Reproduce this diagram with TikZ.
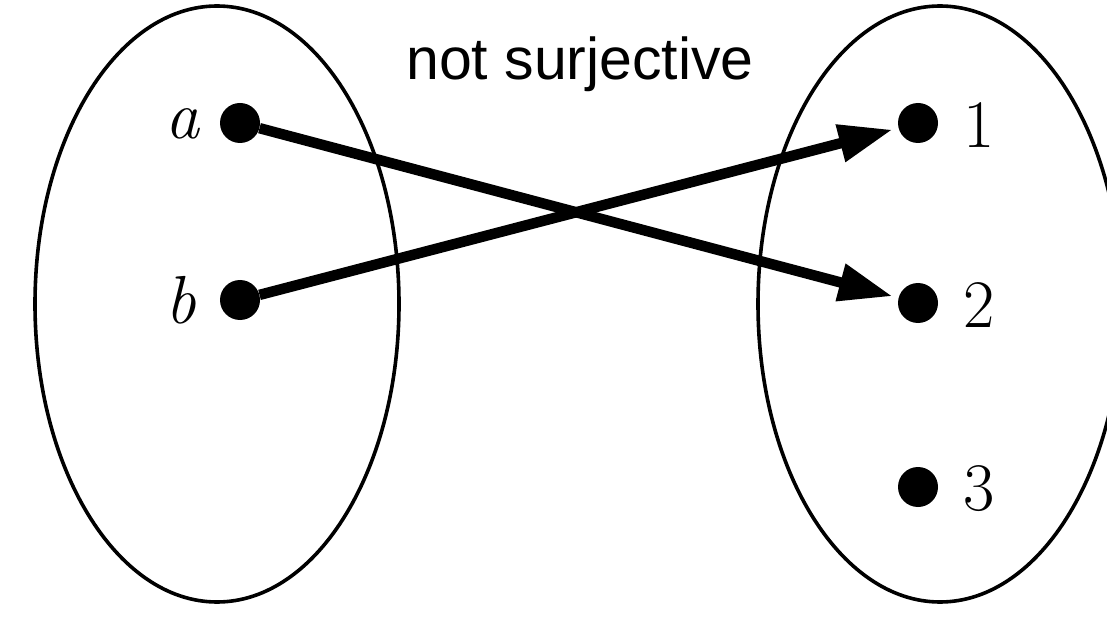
\documentclass[tikz,border=0pt]{standalone}
\usepackage{fontspec}
\newfontfamily\titlefont{Liberation Sans}
\usetikzlibrary{arrows.meta}
\begin{document}
\begin{tikzpicture}[x=1pt,y=-1pt,
  setring/.style={draw, line width=3.6pt},
  dotnode/.style={circle, fill=black, draw=none, inner sep=0pt, minimum size=40pt},
  lbl/.style={font=\fontsize{68}{68}\selectfont, inner sep=0pt},
  maparrow/.style={line width=10.5pt, -{Triangle[length=54pt,width=36pt]}, shorten >=6pt}]
\useasboundingbox (0,0) rectangle (1107,617);
\clip (0,0) rectangle (1107,617);
\fill[white] (0,0) rectangle (1107,617);
% sets
\draw[setring] (217,304) ellipse [x radius=182, y radius=298];
\draw[setring] (940,304) ellipse [x radius=182, y radius=298];
% title
\node[font=\titlefont\fontsize{59}{59}\selectfont, anchor=base, inner sep=0pt] (title) at (580,80) {not surjective};
% domain
\node[dotnode] (a) at (240,123) {};
\node[dotnode] (b) at (240,300) {};
\node[lbl] (la) at (183,124) {\textit{a}};
\node[lbl] (lb) at (181,300) {\textit{b}};
% codomain
\node[dotnode] (n1) at (918,123) {};
\node[dotnode] (n2) at (918,303) {};
\node[dotnode] (n3) at (918,487) {};
\node[lbl] (l1) at (979,125) {1};
\node[lbl] (l2) at (979,305) {2};
\node[lbl] (l3) at (979,489) {3};
% mapping
\draw[maparrow] (a) -- (n2);
\draw[maparrow] (b) -- (n1);
\end{tikzpicture}
\end{document}
